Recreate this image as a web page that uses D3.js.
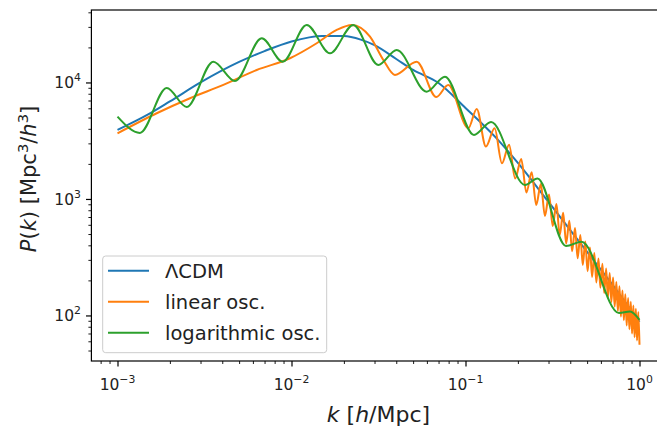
<!DOCTYPE html>
<html>
<head>
<meta charset="utf-8">
<script src="https://cdn.jsdelivr.net/npm/d3@7"></script>
<style>
  body { margin: 0; background: #fff; }
  svg { display: block; font-family: "DejaVu Sans", sans-serif; }
</style>
</head>
<body>
<div id="chart"></div>
<script>

// Data

const kLcdm = [0.001, 0.0015, 0.002, 0.003, 0.005, 0.007, 0.01, 0.015, 0.02, 0.025, 0.03, 0.04,
    0.05, 0.07, 0.1, 0.15, 0.2, 0.3, 0.5, 0.7, 1.0];
const pLcdm = [3910, 5310, 6870, 10000, 15000, 18600, 22500, 25100, 25000, 23300, 20900, 15900,
    12800, 9900, 6040, 3340, 2040, 942, 351, 183, 88];

const kLin = [0.001, 0.00168, 0.00261, 0.00406, 0.00631, 0.0098, 0.01396, 0.01819, 0.0222, 0.02826,
    0.03371, 0.0393, 0.0524, 0.068, 0.0796, 0.1038, 0.116,
    0.131, 0.147, 0.162, 0.178, 0.193, 0.209, 0.224, 0.240, 0.255, 0.271, 0.286, 0.302,
    0.317, 0.333, 0.348, 0.364, 0.379, 0.395, 0.410, 0.426, 0.441, 0.457, 0.472, 0.488,
    0.503, 0.519, 0.534, 0.550, 0.565, 0.581, 0.596, 0.612, 0.627, 0.643, 0.658, 0.674,
    0.689, 0.705, 0.720, 0.736, 0.751, 0.767, 0.782, 0.798, 0.813, 0.829, 0.844, 0.860,
    0.875, 0.891, 0.906, 0.922, 0.937, 0.953, 0.968, 0.984, 1.0];
const pLin = [3660, 5440, 7320, 9520, 12800, 16130, 21700, 28230, 31160, 24730,
    15600, 11600, 15080, 7510, 9520, 4045, 5925,
    2817, 4043, 2025, 2924, 1498, 2201, 1136, 1692, 888, 1342, 714, 1092,
    585, 904, 489, 761, 415, 650, 356, 562, 310, 490, 271, 432,
    240, 383, 214, 343, 192, 308, 173, 278, 156, 253, 142, 231,
    130, 212, 119, 194, 109, 178, 98, 164, 91, 152, 82, 141,
    76, 131, 70, 122, 65, 114, 61, 107, 56];

const kLog = [0.001, 0.001346, 0.001918, 0.0025, 0.003553, 0.004735, 0.006742, 0.0089, 0.01223,
    0.01665, 0.02265, 0.03154, 0.04023, 0.05984, 0.07621, 0.1119, 0.1402, 0.2198, 0.2594,
    0.378, 0.4642, 0.7623, 0.8818, 1.0];
const pLog = [5090, 3690, 8970, 6160, 15080, 10300, 23950, 15080, 31160,
    17810, 31160, 14130, 19010, 8340, 11210, 3543, 4580, 1319, 1500,
    395, 430, 105, 108, 91.5];

const seriesNames = ["ΛCDM", "linear osc.", "logarithmic osc."];
const seriesColors = ["#1f77b4", "#ff7f0e", "#2ca02c"];

const xTicks = [1e-3, 1e-2, 1e-1, 1e0];
const xTickExp = ["−3", "−2", "−1", "0"];
const yTicks = [1e2, 1e3, 1e4];
const yTickExp = ["2", "3", "4"];

// Configure

const dimensions = { width: 657, height: 429 };

const plot = { left: 91.4, right: 665.6, top: 10, bottom: 361 };

const design = {
    lineWidth: 2,
    tickFont: 15.5,
    labelFont: 21,
    legendFont: 19.5,
    majorTick: 5.4,
    minorTick: 3,
};

const svg = d3.select("#chart").append("svg")
    .attr("width", dimensions.width)
    .attr("height", dimensions.height);

svg.append("rect")
    .attr("width", dimensions.width)
    .attr("height", dimensions.height)
    .attr("fill", "#fff");

// Scales

const xScale = d3.scaleLog()
    .domain([Math.pow(10, -3.15), Math.pow(10, 0.15)])
    .range([plot.left, plot.right]);

const yScale = d3.scaleLog()
    .domain([Math.pow(10, 1.609), Math.pow(10, 4.622)])
    .range([plot.bottom, plot.top]);

svg.append("defs").append("clipPath")
    .attr("id", "clip")
    .append("rect")
    .attr("x", plot.left)
    .attr("y", plot.top)
    .attr("width", plot.right - plot.left)
    .attr("height", plot.bottom - plot.top);

// Lines

const series = [
    { k: kLcdm, p: pLcdm },
    { k: kLin, p: pLin },
    { k: kLog, p: pLog },
];

const line = d3.line()
    .curve(d3.curveMonotoneX)
    .x(d => xScale(d[0]))
    .y(d => yScale(d[1]));

const lines = svg.append("g").attr("clip-path", "url(#clip)");

series.forEach((s, i) => {
    lines.append("path")
        .attr("fill", "none")
        .attr("stroke", seriesColors[i])
        .attr("stroke-width", design.lineWidth)
        .attr("stroke-linejoin", "round")
        .attr("d", line(s.k.map((k, j) => [k, s.p[j]])));
});

// Axes

const isMajor = v => Math.abs(Math.log10(v) - Math.round(Math.log10(v))) < 1e-9;

function addAxis(axis, transform) {
    const g = svg.append("g")
        .attr("transform", transform)
        .call(axis);
    g.select(".domain").remove();
    g.selectAll("text").remove();
    g.selectAll("line").attr("stroke", "#000");
    return g;
}

addAxis(d3.axisBottom(xScale).tickValues(xTicks).tickSize(design.majorTick), `translate(0, ${plot.bottom})`)
    .selectAll("line").attr("stroke-width", 1.2);
addAxis(d3.axisBottom(xScale).tickValues(xScale.ticks().filter(v => !isMajor(v))).tickSize(design.minorTick),
    `translate(0, ${plot.bottom})`)
    .selectAll("line").attr("stroke-width", 0.9);

addAxis(d3.axisLeft(yScale).tickValues(yTicks).tickSize(design.majorTick), `translate(${plot.left}, 0)`)
    .selectAll("line").attr("stroke-width", 1.2);
addAxis(d3.axisLeft(yScale).tickValues(yScale.ticks().filter(v => !isMajor(v))).tickSize(design.minorTick),
    `translate(${plot.left}, 0)`)
    .selectAll("line").attr("stroke-width", 0.9);

// Spines

svg.append("rect")
    .attr("x", plot.left)
    .attr("y", plot.top)
    .attr("width", plot.right - plot.left)
    .attr("height", plot.bottom - plot.top)
    .attr("fill", "none")
    .attr("stroke", "#000")
    .attr("stroke-width", 1.2);

// Tick labels

function powerLabel(text, exp, size) {
    text.append("tspan").text("10");
    text.append("tspan")
        .attr("dy", -0.45 * size)
        .attr("font-size", size * 0.7)
        .text(exp);
}

xTicks.forEach((v, i) => {
    const t = svg.append("text")
        .attr("x", xScale(v))
        .attr("y", 390)
        .attr("text-anchor", "middle")
        .attr("font-size", design.tickFont)
        .attr("fill", "#222");
    powerLabel(t, xTickExp[i], design.tickFont);
});

yTicks.forEach((v, i) => {
    const t = svg.append("text")
        .attr("x", 81)
        .attr("y", yScale(v) + 5.8)
        .attr("text-anchor", "end")
        .attr("font-size", design.tickFont)
        .attr("fill", "#222");
    powerLabel(t, yTickExp[i], design.tickFont);
});

// Axis labels

const xLabel = svg.append("text")
    .attr("x", (plot.left + plot.right) / 2)
    .attr("y", 422)
    .attr("text-anchor", "middle")
    .attr("font-size", 22)
    .attr("fill", "#222");
xLabel.append("tspan").attr("font-style", "italic").text("k");
xLabel.append("tspan").text(" [");
xLabel.append("tspan").attr("font-style", "italic").text("h");
xLabel.append("tspan").text("/Mpc]");

const yLabel = svg.append("text")
    .attr("transform", "translate(36, 179) rotate(-90)")
    .attr("text-anchor", "middle")
    .attr("font-size", design.labelFont)
    .attr("fill", "#222");
const sup = design.labelFont * 0.7;
yLabel.append("tspan").attr("font-style", "italic").text("P");
yLabel.append("tspan").text("(");
yLabel.append("tspan").attr("font-style", "italic").text("k");
yLabel.append("tspan").text(") [Mpc");
yLabel.append("tspan").attr("font-size", sup).attr("dy", -8).text("3");
yLabel.append("tspan").attr("dy", 8).text("/");
yLabel.append("tspan").attr("font-style", "italic").text("h");
yLabel.append("tspan").attr("font-size", sup).attr("dy", -8).text("3");
yLabel.append("tspan").attr("dy", 8).text("]");

// Legend

const legend = svg.append("g");

legend.append("rect")
    .attr("x", 102.7)
    .attr("y", 256)
    .attr("width", 224)
    .attr("height", 96.7)
    .attr("rx", 3)
    .attr("fill", "#fff")
    .attr("fill-opacity", 0.8)
    .attr("stroke", "#ccc")
    .attr("stroke-width", 1);

seriesNames.forEach((name, i) => {
    const rowY = 270.7 + i * 31;
    legend.append("line")
        .attr("x1", 108)
        .attr("x2", 149)
        .attr("y1", rowY)
        .attr("y2", rowY)
        .attr("stroke", seriesColors[i])
        .attr("stroke-width", design.lineWidth);
    legend.append("text")
        .attr("x", 165)
        .attr("y", rowY + 7.5)
        .attr("font-size", design.legendFont)
        .attr("fill", "#222")
        .text(name);
});

</script>
</body>
</html>
